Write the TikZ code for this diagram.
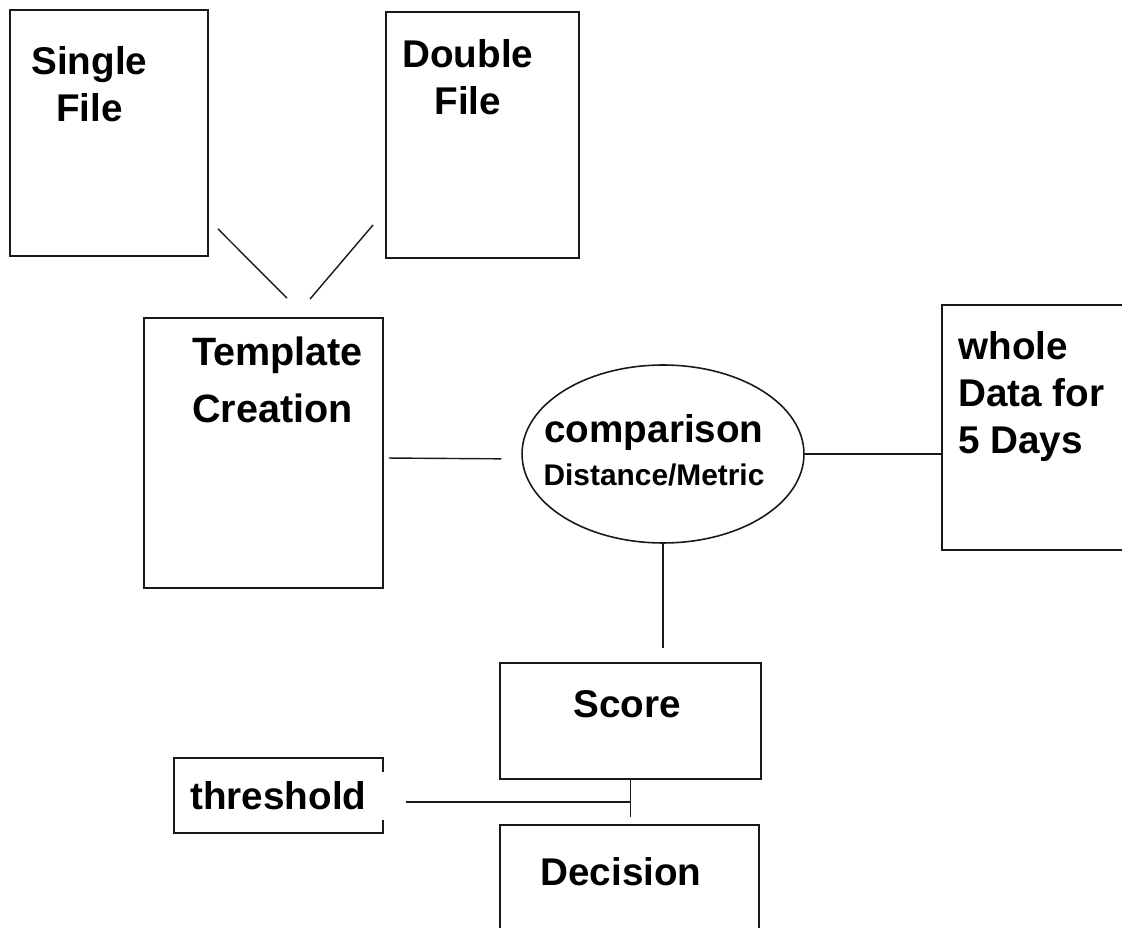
\documentclass[tikz,border=0pt]{standalone}
\usepackage{fontspec}
\setmainfont{Liberation Sans}
\usetikzlibrary{calc, shapes.geometric}

\begin{document}
\begin{tikzpicture}[
    x=0.02cm, y=-0.02cm,
    box/.style={draw=black!90, line width=1.1pt, inner sep=0pt},
    oval/.style={ellipse, draw=black!90, line width=0.9pt, inner sep=0pt, minimum width=5.64cm, minimum height=3.56cm},
    boxtext/.style={inner sep=0pt, font=\fontsize{22}{26.7}\selectfont\bfseries},
    link/.style={draw=black!90, line width=0.8pt}
  ]
    \useasboundingbox (0,0) rectangle (1122,928);

    % Input files
    \node[box, minimum width=3.96cm, minimum height=4.92cm] (single) at (109,133) {};
    \node[box, minimum width=3.86cm, minimum height=4.92cm] (double) at (482.5,135) {};
    \node[boxtext, anchor=north west, align=center] at (31,46) {Single\\File};
    \node[boxtext, anchor=north west, align=center] at (402,39) {Double\\File};

    % Template and data
    \node[box, minimum width=4.78cm, minimum height=5.4cm] (template) at (263.5,453) {};
    \node[boxtext, anchor=north west, align=left, font=\fontsize{22.5}{32.4}\selectfont\bfseries] at (192,337) {Template\\Creation};
    \node[box, minimum width=4.16cm, minimum height=4.9cm] (whole) at (1046,427.5) {};
    \node[boxtext, anchor=north west, align=left] at (958,331) {whole\\Data for\\5 Days};

    % Comparison
    \node[oval] (cmp) at (663,454) {};
    \node[boxtext, align=center, font=\fontsize{22}{24.4}\selectfont\bfseries] at (654,450) {comparison\\{\fontsize{17}{19}\selectfont Distance/Metric}};

    % Score, threshold, decision
    \node[box, minimum width=5.22cm, minimum height=2.32cm] (score) at (630.5,721) {};
    \node[boxtext, anchor=base] at (627,717) {Score};
    \node[box, minimum width=5.18cm, minimum height=2.6cm] (decision) at (629.5,890) {};
    \node[boxtext, anchor=base] at (621,885) {Decision};
    \node[boxtext, minimum width=4.18cm, minimum height=1.5cm] (thr) at (278.5,795.5) {threshold};
    \draw[box] ($(thr.north east)+(0,14)$) -- (thr.north east) -- (thr.north west)
      -- (thr.south west) -- (thr.south east) -- ++(0,-13);

    % Connections
    \draw[link] ($(single.south east)+(9,-28)$) -- ($(template.north)+(23.5,-19)$);
    \draw[link] ($(double.south west)+(-12,-34)$) -- ($(template.north)+(46.5,-18)$);
    \draw[link, shorten <=0.1cm, shorten >=0.4cm] ([yshift=-0.1cm]template.east) -- ([yshift=-0.1cm]cmp.west);
    \draw[link] (cmp.east) -- (cmp.east -| whole.west);
    \draw[link, shorten >=0.28cm] (cmp.south) -- (cmp.south |- score.north);
    \draw[link, shorten >=0.14cm] (score.south) -- (score.south |- decision.north);
    \coordinate (join) at ($(score.south)!0.5!(decision.north)$);
    \draw[link, shorten >=0.46cm] (join) -- (join -| thr.east);
\end{tikzpicture}
\end{document}
